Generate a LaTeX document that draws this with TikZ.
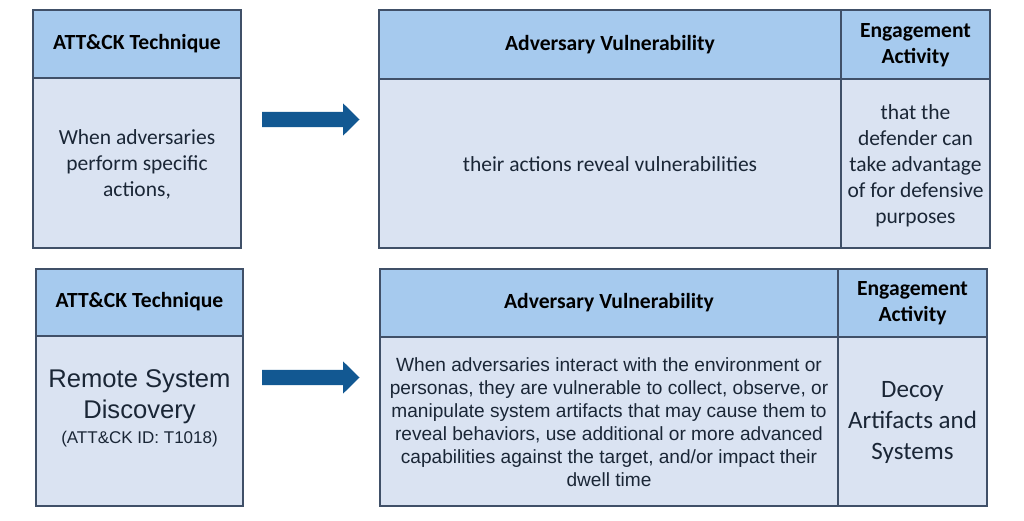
\documentclass[tikz,border=0pt]{standalone}
\usepackage{fontspec}
\setmainfont{Carlito}
\newfontfamily\arialfont{Liberation Sans}
\usetikzlibrary{positioning}

\definecolor{hdrblue}{RGB}{166,202,238}
\definecolor{cellblue}{RGB}{218,227,242}
\definecolor{edgegray}{RGB}{64,80,104}
\definecolor{arrowblue}{RGB}{18,88,146}
\definecolor{textnavy}{RGB}{26,38,54}

\begin{document}
\begin{tikzpicture}[x=1pt,y=-1pt,
  hdrtext/.style={align=center, font=\fontsize{21.6}{26}\selectfont\bfseries, text=black},
  celltext/.style={align=center, font=\fontsize{21.5}{26}\selectfont, text=textnavy},
  arialtext/.style={align=center, font=\arialfont\fontsize{19.1}{23}\selectfont, text=textnavy},
  boxline/.style={draw=edgegray, line width=1.3pt}]
\useasboundingbox (0,0) rectangle (1024,521);

% top row: technique box
\fill[hdrblue] (33,10) rectangle (241,78);
\fill[cellblue] (33,78) rectangle (241,248);
\draw[boxline] (33,10) rectangle (241,248);
\draw[boxline] (33,78) -- (241,78);
\node[hdrtext] (techA) at (137,44) {ATT\&CK Technique};
\node[celltext] (actA) at (137,164) {When adversaries\\perform specific\\actions,};

% top row: vulnerability and engagement table
\fill[hdrblue] (379,10) rectangle (990,79);
\fill[cellblue] (379,79) rectangle (990,248);
\draw[boxline] (379,10) rectangle (990,248);
\draw[boxline] (379,79) -- (990,79);
\draw[boxline] (841,10) -- (841,248);
\node[hdrtext] (vulnA) at (610,45) {Adversary Vulnerability};
\node[hdrtext] (engA) at (915.5,45) {Engagement\\Activity};
\node[celltext] (revealA) at (610,164) {their actions reveal vulnerabilities};
\node[celltext] (defA) at (915.5,166) {that the\\defender can\\take advantage\\of for defensive\\purposes};

% bottom row: technique box
\fill[hdrblue] (36,269) rectangle (243,336);
\fill[cellblue] (36,336) rectangle (243,506);
\draw[boxline] (36,269) rectangle (243,506);
\draw[boxline] (36,336) -- (243,336);
\node[hdrtext] (techB) at (139.5,302) {ATT\&CK Technique};
\node[align=center, text=textnavy, font=\arialfont\fontsize{25.6}{31}\selectfont] (discB) at (139.5,408)
  {Remote System\\Discovery\\[-6pt]\fontsize{17}{19}\selectfont (ATT\&CK ID: T1018)};

% bottom row: vulnerability and engagement table
\fill[hdrblue] (380,269) rectangle (987,337);
\fill[cellblue] (380,337) rectangle (987,506);
\draw[boxline] (380,269) rectangle (987,506);
\draw[boxline] (380,337) -- (987,337);
\draw[boxline] (838,269) -- (838,506);
\node[hdrtext] (vulnB) at (609,303) {Adversary Vulnerability};
\node[hdrtext] (engB) at (912.5,303) {Engagement\\Activity};
\node[arialtext] (interB) at (609,422) {When adversaries interact with the environment or\\personas, they are vulnerable to collect, observe, or\\manipulate system artifacts that may cause them to\\reveal behaviors, use additional or more advanced\\capabilities against the target, and/or impact their\\dwell time};
\node[align=center, text=textnavy, font=\fontsize{25}{31}\selectfont] (decoyB) at (912.5,422) {Decoy\\Artifacts and\\Systems};

% block arrows
\foreach \dy/\nm in {0/arrA, 258/arrB}
{
\coordinate (\nm) at (262,119.5+\dy);
\fill[arrowblue] (\nm) ++(0,-7.7) -- ++(81,0) -- ++(0,-8.5) -- ++(16.5,16.2)
  -- ++(-16.5,16.2) -- ++(0,-8.5) -- ++(-81,0) -- cycle;
}
\end{tikzpicture}
\end{document}
